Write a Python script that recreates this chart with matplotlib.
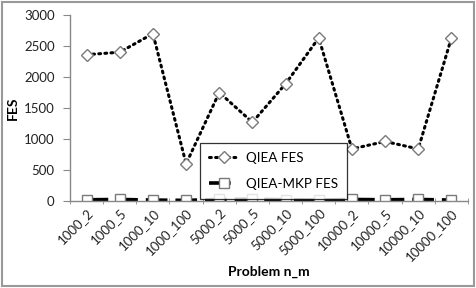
import matplotlib
matplotlib.use("Agg")
import matplotlib.pyplot as plt
from matplotlib.patches import Rectangle

categories = ["1000_2", "1000_5", "1000_10", "1000_100", "5000_2", "5000_5",
              "5000_10", "5000_100", "10000_2", "10000_5", "10000_10", "10000_100"]
qiea_fes = [2360, 2400, 2700, 600, 1750, 1270, 1890, 2630, 840, 960, 840, 2630]
qiea_mkp_fes = [20, 25, 15, 10, 25, 30, 20, 15, 25, 20, 25, 15]
yticks = [0, 500, 1000, 1500, 2000, 2500, 3000]

plt.rcParams['font.family'] = ['Lato', 'DejaVu Sans']

fig = plt.figure(figsize=(4.77, 2.88), dpi=100)
ax = fig.add_axes([70/477, 1-201/288, 398/477, 186/288])

x = list(range(len(categories)))
ax.plot(x, qiea_fes, color='black', lw=2.2, linestyle=(0, (0.6, 1.4)),
        dash_capstyle='round', marker='D', markersize=6.5,
        markerfacecolor='white', markeredgecolor='#7a7a7a', markeredgewidth=1.0,
        label='QIEA FES')
ax.plot(x, qiea_mkp_fes, color='black', lw=2.6, linestyle=(0, (6, 2.2)),
        marker='s', markersize=7,
        markerfacecolor='white', markeredgecolor='#7a7a7a', markeredgewidth=1.0,
        label='QIEA-MKP FES')

ax.set_xlim(-0.5, len(categories) - 0.5)
ax.set_ylim(0, 3000)
ax.set_yticks(yticks)
ax.set_yticklabels([str(v) for v in yticks], fontsize=9.5, color='#222222')
ax.set_xticks(x)
ax.set_xticklabels(categories, rotation=45, ha='right', rotation_mode='anchor',
                   fontsize=9.5, color='#222222')
ax.tick_params(axis='x', length=0, pad=4)
ax.set_xticks([i + 0.5 for i in range(-1, len(categories))], minor=True)
ax.tick_params(axis='x', which='minor', length=5, direction='inout', color='#888888')
ax.tick_params(axis='y', length=5, direction='out', color='#888888', pad=6)

for s in ['top', 'right']:
    ax.spines[s].set_visible(False)
for s in ['left', 'bottom']:
    ax.spines[s].set_color('#888888')
    ax.spines[s].set_linewidth(1.0)

ax.set_ylabel('FES', fontsize=10, fontweight='bold', labelpad=4)
ax.set_xlabel('Problem n_m', fontsize=10, fontweight='bold', labelpad=2)

leg = ax.legend(loc='upper left', bbox_to_anchor=((200-70)/398, (201-143)/186),
                frameon=True, fancybox=False, fontsize=9.7, handlelength=2.2,
                handletextpad=0.6, labelspacing=1.05, borderpad=0.65,
                borderaxespad=0)
leg.get_frame().set_edgecolor('black')
leg.get_frame().set_linewidth(0.9)

fig.patches.append(Rectangle((0.004, 0.006), 0.99, 0.988, transform=fig.transFigure,
                             fill=False, edgecolor='#999999', lw=1.5))

fig.savefig('out.png', dpi=100)
